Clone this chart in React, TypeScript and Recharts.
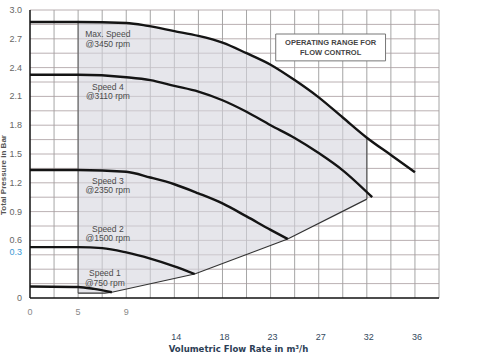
import {
  ComposedChart,
  Line,
  Area,
  XAxis,
  YAxis,
  ReferenceLine,
  ReferenceDot,
  ReferenceArea,
  Label,
} from 'recharts';

// flow rate (m³/h) and total pressure (bar)
const maxSpeedX = [0, 4.5, 9, 11, 13.5, 15.75, 18, 20.25, 22.5, 24.75, 27, 29.25, 31.5, 33.75, 36];
const maxSpeedY = [2.875, 2.875, 2.865, 2.835, 2.78, 2.73, 2.66, 2.55, 2.43, 2.27, 2.09, 1.88, 1.67, 1.49, 1.31];

const speed4X = [0, 4.5, 9, 11.25, 13.5, 15.75, 18, 20.25, 22.5, 24.75, 27, 29.25, 32];
const speed4Y = [2.325, 2.325, 2.3, 2.27, 2.21, 2.15, 2.06, 1.94, 1.8, 1.667, 1.51, 1.33, 1.05];

const speed3X = [0, 4.5, 9, 11.25, 13.5, 15.75, 18, 20.25, 22.5, 24.1];
const speed3Y = [1.333, 1.333, 1.315, 1.255, 1.185, 1.09, 0.985, 0.85, 0.71, 0.615];

const speed2X = [0, 4.5, 6.75, 9, 11.25, 13.5, 15.4];
const speed2Y = [0.53, 0.53, 0.52, 0.475, 0.41, 0.33, 0.25];

const speed1X = [0, 4.5, 6, 7.65];
const speed1Y = [0.12, 0.115, 0.095, 0.06];

// lower edge of the operating range
const lowerX = [4.5, 7, 7.65, 15.4, 24.1, 31.5];
const lowerY = [0.05, 0.05, 0.06, 0.25, 0.615, 1.03];

// shaded operating range: top / bottom read at the same flow rates
const rangeX = [4.5, 7, 7.65, 9, 11.25, 13.5, 15.4, 18, 20.25, 22.5, 24.1, 27, 29.25, 31.5];
const rangeTop = [2.875, 2.87, 2.868, 2.865, 2.83, 2.78, 2.74, 2.66, 2.55, 2.43, 2.32, 2.09, 1.88, 1.67];
const rangeLow = [0.05, 0.05, 0.06, 0.095, 0.15, 0.2, 0.25, 0.36, 0.46, 0.55, 0.615, 0.77, 0.89, 1.03];

const xTicks = [0, 4.5, 9, 13.5, 18, 22.5, 27, 31.5, 36];
const xTickLabels = ['0', '5', '9', '14', '18', '23', '27', '32', '36'];
const yTicks = [0, 0.3, 0.6, 0.9, 1.2, 1.5, 1.8, 2.1, 2.4, 2.7, 3.0];
const gridX = [2.25, 4.5, 6.75, 9, 11.25, 13.5, 15.75, 18, 20.25, 22.5, 24.75, 27, 29.25, 31.5, 33.75, 36, 38.25];
const gridY = [0.15, 0.3, 0.45, 0.6, 0.75, 0.9, 1.05, 1.2, 1.35, 1.5, 1.65, 1.8, 1.95, 2.1, 2.25, 2.4, 2.55, 2.7, 2.85, 3.0];

const speedLabels = [
  { x: 7.28, y: 2.75, name: 'Max. Speed', rpm: '@3450 rpm' },
  { x: 7.28, y: 2.198, name: 'Speed 4', rpm: '@3110 rpm' },
  { x: 7.28, y: 1.219, name: 'Speed 3', rpm: '@2350 rpm' },
  { x: 7.28, y: 0.719, name: 'Speed 2', rpm: '@1500 rpm' },
  { x: 7.0, y: 0.26, name: 'Speed 1', rpm: '@750 rpm' },
];

const toPoints = (xs: number[], ys: number[]) => xs.map((x, i) => ({ x, y: ys[i] }));

const curves = [
  toPoints(maxSpeedX, maxSpeedY),
  toPoints(speed4X, speed4Y),
  toPoints(speed3X, speed3Y),
  toPoints(speed2X, speed2Y),
  toPoints(speed1X, speed1Y),
];
const lowerEdge = toPoints(lowerX, lowerY);
const rangeData = rangeX.map((x, i) => ({ x, band: [rangeLow[i], rangeTop[i]] }));

const FONT = '"Liberation Sans", Arial, sans-serif';

function XTick(props: any) {
  const { x, payload, index } = props;
  const label = xTickLabels[xTicks.indexOf(payload.value)] ?? '';
  const low = index >= 3;
  return (
    <text
      x={x + (low ? 2 : 0)}
      y={low ? 340 : 315}
      textAnchor="middle"
      fontSize={9}
      fontFamily={FONT}
      fill={low ? '#34495e' : '#888'}
    >
      {label}
    </text>
  );
}

function YTick(props: any) {
  const { y, payload } = props;
  const odd = payload.value === 0.3;
  const text = payload.value === 0 ? '0' : payload.value.toFixed(1);
  return (
    <text
      x={22}
      y={(odd ? y - 17 : y) + 3}
      textAnchor="end"
      fontSize={9}
      fontFamily={FONT}
      fill={odd ? '#3c9ad6' : '#666'}
    >
      {text}
    </text>
  );
}

function speedLabel(name: string, rpm: string) {
  return (props: any) => {
    const { viewBox } = props;
    const cx = viewBox.x + (viewBox.width ?? 0) / 2;
    const cy = viewBox.y + (viewBox.height ?? 0) / 2;
    return (
      <g fontFamily={FONT} fontSize={8.5} fill="#4a4a4a" textAnchor="middle">
        <text x={cx} y={cy + 3}>{name}</text>
        <text x={cx} y={cy + 12.5}>{rpm}</text>
      </g>
    );
  };
}

function boxLabel(props: any) {
  const { viewBox } = props;
  const cx = viewBox.x + viewBox.width / 2;
  return (
    <g fontFamily={FONT} fontSize={7.5} fontWeight="bold" fill="#444" textAnchor="middle">
      <text x={cx} y={viewBox.y + 11}>OPERATING RANGE FOR</text>
      <text x={cx} y={viewBox.y + 21}>FLOW CONTROL</text>
    </g>
  );
}

export default function App() {
  return (
    <div style={{ position: 'absolute', left: 0, top: 0, width: 503, height: 360, background: '#fff' }}>
      <ComposedChart width={503} height={360} margin={{ top: 10, right: 64, bottom: 0, left: 0 }}>
        <XAxis
          type="number"
          dataKey="x"
          domain={[0, 38.25]}
          ticks={xTicks}
          interval={0}
          tick={<XTick />}
          tickLine={false}
          axisLine={{ stroke: '#111', strokeWidth: 1.5 }}
          height={62}
        >
          <Label
            value="Volumetric Flow Rate in m³/h"
            position="insideBottom"
            offset={8}
            dx={4}
            fontSize={9.5}
            fontWeight="bold"
            fontFamily='"DejaVu Sans Condensed", "DejaVu Sans", sans-serif'
            fill="#2c3e55"
          />
        </XAxis>
        <YAxis
          type="number"
          domain={[0, 3]}
          ticks={yTicks}
          interval={0}
          tick={<YTick />}
          tickLine={false}
          axisLine={{ stroke: '#111', strokeWidth: 1.5 }}
          width={30}
        />
        {gridX.map((v) => (
          <ReferenceLine key={'gx' + v} x={v} stroke="#8e8e8e" strokeWidth={0.8} zIndex={50} />
        ))}
        {gridY.map((v) => (
          <ReferenceLine key={'gy' + v} y={v} stroke="#a89c9e" strokeWidth={0.8} zIndex={50} />
        ))}
        <Area
          data={rangeData}
          dataKey="band"
          type="linear"
          stroke="none"
          fill="#d6d6de"
          fillOpacity={0.6}
          isAnimationActive={false}
        />
        <ReferenceLine segment={[{ x: 4.5, y: 0.05 }, { x: 4.5, y: 2.875 }]} stroke="#555" strokeWidth={1} />
        <ReferenceLine segment={[{ x: 31.5, y: 1.03 }, { x: 31.5, y: 1.67 }]} stroke="#555" strokeWidth={1.2} />
        <Line
          data={lowerEdge}
          dataKey="y"
          type="linear"
          stroke="#333"
          strokeWidth={1.2}
          dot={false}
          isAnimationActive={false}
        />
        {curves.map((pts, i) => (
          <Line
            key={i}
            data={pts}
            dataKey="y"
            type="monotone"
            stroke="#141414"
            strokeWidth={2.4}
            dot={false}
            isAnimationActive={false}
          />
        ))}
        {speedLabels.map((s) => (
          <ReferenceDot
            key={s.name}
            x={s.x}
            y={s.y}
            r={0.01}
            fill="none"
            stroke="none"
            zIndex={700}
            label={speedLabel(s.name, s.rpm)}
          />
        ))}
        <ReferenceArea
          x1={22.98}
          x2={33.25}
          y1={2.47}
          y2={2.75}
          fill="#fff"
          fillOpacity={1}
          stroke="#777"
          strokeWidth={1}
          zIndex={700}
          label={boxLabel}
        />
      </ComposedChart>
      <svg width={20} height={360} style={{ position: 'absolute', left: 0, top: 0 }}>
        <text
          transform="translate(6,175) rotate(-90)"
          textAnchor="middle"
          fontSize={8}
          fontWeight="bold"
          fontFamily={FONT}
          fill="#555"
        >
          Total Pressure in Bar
        </text>
      </svg>
    </div>
  );
}
